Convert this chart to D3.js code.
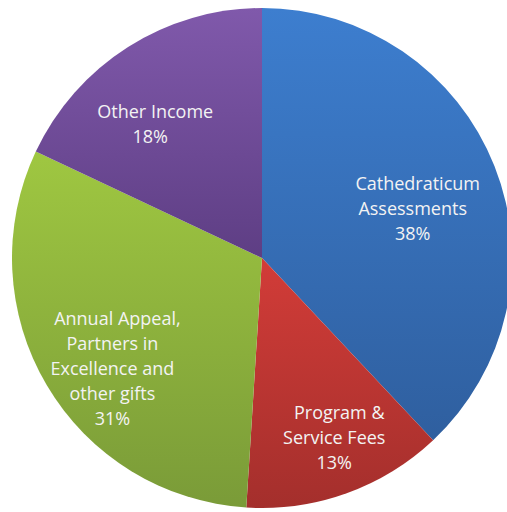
<!DOCTYPE html>
<html>
<head>
<meta charset="utf-8">
<script src="https://cdn.jsdelivr.net/npm/d3@7"></script>
<style>
  html, body { margin: 0; padding: 0; background: #fff; }
  svg { display: block; }
</style>
</head>
<body>
<svg id="chart"></svg>
<script>
// Data
const categories = [
  ["Cathedraticum", "Assessments"],
  ["Program &", "Service Fees"],
  ["Annual Appeal,", "Partners in", "Excellence and", "other gifts"],
  ["Other Income"]
];
const values = [38, 13, 31, 18];
const colorsTop = ["#3d7ecf", "#d23c38", "#9fc741", "#8059ab"];
const colorsBottom = ["#2f5f9f", "#a42f2c", "#7a9b38", "#5e3e84"];
// label nudges from the arc centroid (layout only)
const labelNudge = [[-12, 15], [13, 15], [1, 22], [-18, 14]];

const width = 507;
const height = 512;
const cx = 262, cy = 258, radius = 250;

const svg = d3.select("#chart")
  .attr("width", width)
  .attr("height", height);

const defs = svg.append("defs");
values.forEach((v, i) => {
  const grad = defs.append("linearGradient")
    .attr("id", "grad" + i)
    .attr("x1", 0).attr("y1", 0).attr("x2", 0).attr("y2", 1);
  grad.append("stop").attr("offset", "0%").attr("stop-color", colorsTop[i]);
  grad.append("stop").attr("offset", "100%").attr("stop-color", colorsBottom[i]);
});

const g = svg.append("g")
  .attr("transform", `translate(${cx},${cy})`);

const pie = d3.pie().sort(null).value(d => d);
const arcs = pie(values);

const arc = d3.arc().innerRadius(0).outerRadius(radius);
const labelArc = d3.arc().innerRadius(radius * 0.7).outerRadius(radius * 0.7);

// Slices
g.selectAll("path.slice")
  .data(arcs)
  .join("path")
  .attr("class", "slice")
  .attr("d", arc)
  .attr("fill", (d, i) => `url(#grad${i})`);

// Labels
const lineHeight = 25;
const labels = g.selectAll("text.label")
  .data(arcs)
  .join("text")
  .attr("class", "label")
  .attr("text-anchor", "middle")
  .style("font-family", "'Open Sans', sans-serif")
  .style("font-size", "18px")
  .attr("fill", "#f3f3f3");

labels.each(function (d, i) {
  const [x, y] = labelArc.centroid(d);
  const lx = x + labelNudge[i][0];
  const ly = y + labelNudge[i][1];
  const lines = categories[i].concat([d3.format(".0f")(values[i]) + "%"]);
  const firstBaseline = ly - (lines.length - 1) * lineHeight / 2 + 6;
  const t = d3.select(this);
  lines.forEach((line, j) => {
    t.append("tspan")
      .attr("x", lx + (j === 0 && lines.length > 1 ? 5 : 0))
      .attr("y", firstBaseline + j * lineHeight)
      .text(line);
  });
});
</script>
</body>
</html>
